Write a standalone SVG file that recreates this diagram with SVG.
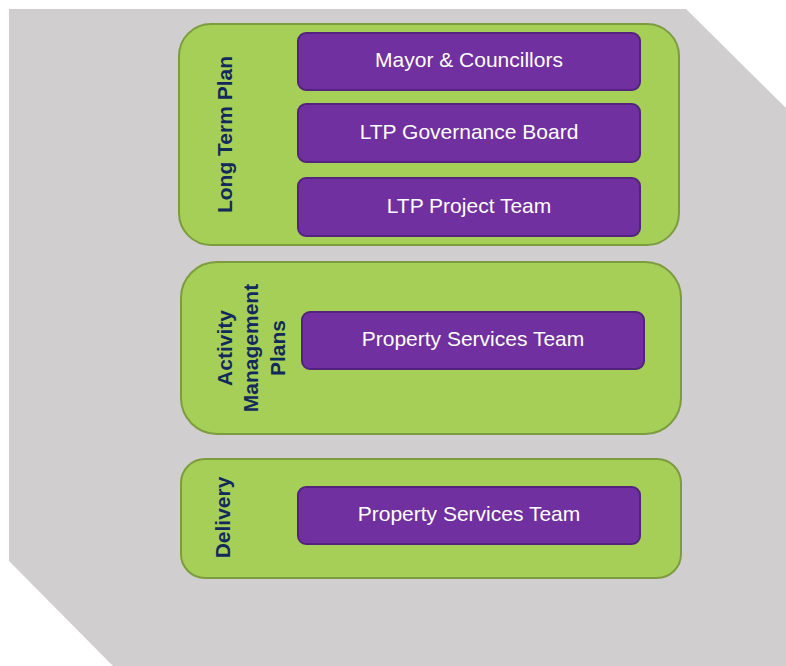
<svg xmlns="http://www.w3.org/2000/svg" width="786" height="666" viewBox="0 0 786 666">
<style>
.bg{fill:#D0CECF}
.grp{fill:#A5CF57;stroke:#7C9C3E;stroke-width:2}
.box{fill:#7030A0;stroke:#542380;stroke-width:2}
.bt{font-family:"Liberation Sans",Arial,sans-serif;font-size:21px;fill:#FFFFFF;text-anchor:middle}
.lbl{font-family:"Liberation Sans",Arial,sans-serif;font-size:21px;font-weight:bold;fill:#12295C;text-anchor:middle}
</style>
<rect width="786" height="666" fill="#FFFFFF"/>
<polygon class="bg" points="9,9 686,9 786,108 786,666 113,666 9,561"/>
<g id="connectors"></g>
<g id="ltp">
<rect class="grp" x="179" y="24" width="500" height="221" rx="32" ry="32"/>
<text class="lbl" transform="translate(232,134.5) rotate(-90)">Long Term Plan</text>
</g>
<g id="mayor">
<rect class="box" x="298" y="33" width="342" height="57" rx="8" ry="8"/>
<text class="bt" x="469" y="67">Mayor &amp; Councillors</text>
</g>
<g id="governance">
<rect class="box" x="298" y="104" width="342" height="58" rx="8" ry="8"/>
<text class="bt" x="469" y="139">LTP Governance Board</text>
</g>
<g id="project">
<rect class="box" x="298" y="178" width="342" height="58" rx="8" ry="8"/>
<text class="bt" x="469" y="213">LTP Project Team</text>
</g>
<g id="amp">
<rect class="grp" x="181" y="262" width="500" height="172" rx="36" ry="36"/>
<text class="lbl" transform="translate(232,348) rotate(-90)">Activity</text>
<text class="lbl" transform="translate(258,348) rotate(-90)">Management</text>
<text class="lbl" transform="translate(285,348) rotate(-90)">Plans</text>
</g>
<g id="amp-team">
<rect class="box" x="302" y="312" width="342" height="57" rx="8" ry="8"/>
<text class="bt" x="473" y="346">Property Services Team</text>
</g>
<g id="delivery">
<rect class="grp" x="181" y="459" width="500" height="119" rx="24" ry="24"/>
<text class="lbl" transform="translate(230,517.5) rotate(-90)">Delivery</text>
</g>
<g id="delivery-team">
<rect class="box" x="298" y="487" width="342" height="57" rx="8" ry="8"/>
<text class="bt" x="469" y="521">Property Services Team</text>
</g>
</svg>
